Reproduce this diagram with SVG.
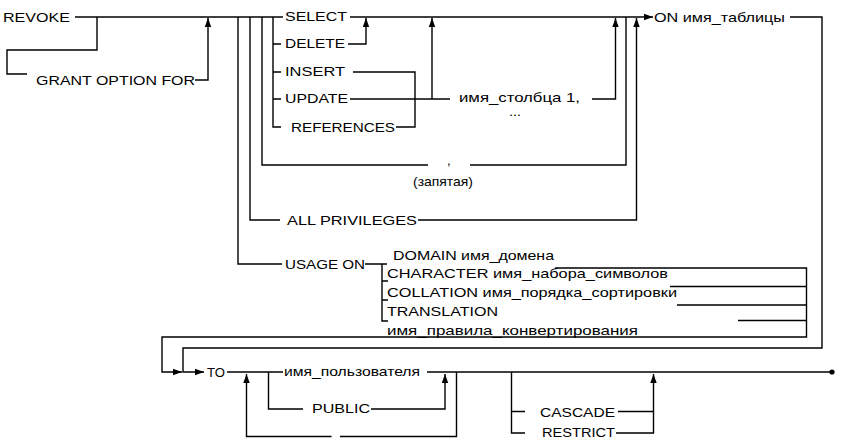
<svg xmlns="http://www.w3.org/2000/svg" width="844" height="440" viewBox="0 0 844 440">
<style>
text{font-family:"Liberation Sans",Arial,sans-serif;font-size:13px;fill:#000}
.c{fill:none;stroke:#000;stroke-width:1.4}
.a{marker-end:url(#ah)}
</style>
<defs>
<marker id="ah" markerUnits="userSpaceOnUse" markerWidth="9" markerHeight="8" viewBox="0 0 9 8" refX="9" refY="4" orient="auto">
<path d="M0,0.8 L9,4 L0,7.2 z" fill="#000"/>
</marker>
</defs>
<rect width="844" height="440" fill="#fff"/>
<g id="connectors">
<path class="c" d="M75,17 H283"/>
<path class="c" d="M97,17 V50 H7 V74 H27"/>
<path class="c a" d="M195,80 H208 V18"/>
<path class="c" d="M238,17 V264 H282"/>
<path class="c" d="M250,17 V220 H280"/>
<path class="c" d="M262,17 V165 H428"/>
<path class="c" d="M470,165 H626 V17"/>
<path class="c" d="M273,17 V127 H281 M273,44 H281 M273,72 H281 M273,99 H281"/>
<path class="c a" d="M350,17 H653"/>
<path class="c a" d="M348,44 H366 V18"/>
<path class="c" d="M353,72 H415 V127 H396"/>
<path class="c" d="M350,99 H450"/>
<path class="c a" d="M432,99 V18"/>
<path class="c a" d="M592,99 H615.5 V18"/>
<path class="c a" d="M418,220 H636.5 V18"/>
<path class="c" d="M365,264 H387 M382,264 V321 H388 M382,281 H388 M382,300 H388"/>
<path class="c a" d="M790,17 H822 V348 H183 V372 H204"/>
<path class="c a" d="M555,268 H806.5 V337 H162 V372 H182"/>
<path class="c" d="M670,286.5 H806.5 M677,305 H806.5 M738,320.5 H806.5"/>
<path class="c" d="M227,372 H283"/>
<path class="c" d="M427,372 H832"/>
<path class="c a" d="M331.5,436.5 H246.5 V374"/>
<path class="c" d="M340,436.5 H456.5 V372"/>
<path class="c" d="M268.5,372 V409 H303"/>
<path class="c a" d="M371,409 H445 V374"/>
<path class="c" d="M511.5,372 V433 H525 M511.5,411.5 H525"/>
<path class="c" d="M618,411.5 H653.5"/>
<path class="c a" d="M616,433 H653.5 V374"/>
<circle cx="832" cy="372" r="2.6" fill="#000"/>
</g>
<g id="revoke"><text x="3" y="22" textLength="67" lengthAdjust="spacingAndGlyphs">REVOKE</text></g>
<g id="grant-option"><text x="36" y="85" textLength="159" lengthAdjust="spacingAndGlyphs">GRANT OPTION FOR</text></g>
<g id="select"><text x="285" y="21" textLength="62" lengthAdjust="spacingAndGlyphs">SELECT</text></g>
<g id="delete"><text x="285" y="48" textLength="60" lengthAdjust="spacingAndGlyphs">DELETE</text></g>
<g id="insert"><text x="285" y="76" textLength="60" lengthAdjust="spacingAndGlyphs">INSERT</text></g>
<g id="update"><text x="285" y="103" textLength="63" lengthAdjust="spacingAndGlyphs">UPDATE</text></g>
<g id="references"><text x="291" y="132" textLength="104" lengthAdjust="spacingAndGlyphs">REFERENCES</text></g>
<g id="columns"><text x="459" y="102" textLength="121" lengthAdjust="spacingAndGlyphs">имя_столбца 1,</text><text x="509" y="116" textLength="12" lengthAdjust="spacingAndGlyphs">...</text></g>
<g id="on-table"><text x="654" y="22" textLength="131" lengthAdjust="spacingAndGlyphs">ON имя_таблицы</text></g>
<g id="comma"><text x="447" y="165">,</text><text x="413" y="186" textLength="60" lengthAdjust="spacingAndGlyphs">(запятая)</text></g>
<g id="all-privileges"><text x="287" y="225" textLength="130" lengthAdjust="spacingAndGlyphs">ALL PRIVILEGES</text></g>
<g id="usage-on"><text x="285" y="269" textLength="80" lengthAdjust="spacingAndGlyphs">USAGE ON</text></g>
<g id="domain"><text x="393" y="260" textLength="161" lengthAdjust="spacingAndGlyphs">DOMAIN имя_домена</text></g>
<g id="character"><text x="387" y="278" textLength="281" lengthAdjust="spacingAndGlyphs">CHARACTER имя_набора_символов</text></g>
<g id="collation"><text x="387" y="297" textLength="290" lengthAdjust="spacingAndGlyphs">COLLATION имя_порядка_сортировки</text></g>
<g id="translation"><text x="387" y="316" textLength="111" lengthAdjust="spacingAndGlyphs">TRANSLATION</text><text x="387" y="335" textLength="251" lengthAdjust="spacingAndGlyphs">имя_правила_конвертирования</text></g>
<g id="to"><text x="207" y="377" textLength="18" lengthAdjust="spacingAndGlyphs">TO</text></g>
<g id="user-name"><text x="284" y="376" textLength="136" lengthAdjust="spacingAndGlyphs">имя_пользователя</text></g>
<g id="public"><text x="312" y="413" textLength="58" lengthAdjust="spacingAndGlyphs">PUBLIC</text></g>
<g id="cascade"><text x="540" y="417" textLength="75" lengthAdjust="spacingAndGlyphs">CASCADE</text></g>
<g id="restrict"><text x="542" y="437" font-size="12" textLength="73" lengthAdjust="spacingAndGlyphs">RESTRICT</text></g>
</svg>
